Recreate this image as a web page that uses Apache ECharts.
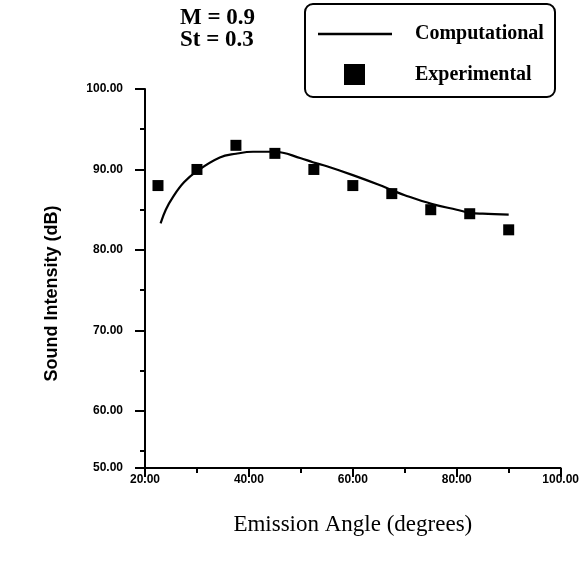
<!DOCTYPE html>
<html><head><meta charset="utf-8">
<script src="https://cdn.jsdelivr.net/npm/echarts@6/dist/echarts.min.js"></script>
<style>html,body{margin:0;padding:0;background:#fff}#c{width:582px;height:568px}</style>
</head><body><div id="c"></div>
<script>
// Computational curve (emission angle, sound intensity)
var curveX = [23, 24, 25.4, 27.5, 30, 34.4, 37.5, 40.8, 45, 50, 52.3, 55, 60, 65, 67.6, 70, 75.3, 80, 82.7, 85, 90];
var curveY = [83.3, 85.0, 86.6, 88.4, 89.8, 91.5, 91.95, 92.2, 92.2, 91.4, 90.9, 90.4, 89.3, 88.1, 87.4, 86.8, 85.7, 85.0, 84.6, 84.5, 84.4];
// Experimental points
var expX = [22.5, 30, 37.5, 45, 52.5, 60, 67.5, 75, 82.5, 90];
var expY = [88, 90, 93, 92, 90, 88, 87, 85, 84.5, 82.5];
// Axis ticks (the printed y axis meets the x axis just above 53 although it is labelled 50.00)
var xTicks = [20, 40, 60, 80, 100];
var yAxisBottom = 52.9;
var yTickValues = [52.9, 60, 70, 80, 90, 100];
var yTickLabels = ['50.00', '60.00', '70.00', '80.00', '90.00', '100.00'];
var yMinorTicks = [55, 65, 75, 85, 95];
var noteLines = ['M = 0.9', 'St = 0.3'];

var chart = echarts.init(document.getElementById('c'), null, {renderer: 'canvas'});
var serif = 'Liberation Serif';
var sans = 'Liberation Sans';
var labelStyle = {color: '#000', fontFamily: sans, fontWeight: 'bold', fontSize: 12};
chart.setOption({
  backgroundColor: '#fff',
  animation: false,
  title: {
    text: noteLines.join('\n'), left: 175, top: 2,
    textStyle: {fontFamily: serif, fontWeight: 'bold', fontSize: 23, lineHeight: 22, color: '#000'}
  },
  legend: [{
    data: [{name: 'Computational', icon: 'rect'}], left: 318, top: 24, padding: 0, itemWidth: 74, itemHeight: 2.5,
    textStyle: {fontFamily: serif, fontWeight: 'bold', fontSize: 20, color: '#000', padding: [0, 0, 0, 18]},
    selectedMode: false
  }, {
    data: [{name: 'Experimental', icon: 'rect'}], left: 344, top: 64, padding: 0, itemWidth: 21, itemHeight: 21,
    textStyle: {fontFamily: serif, fontWeight: 'bold', fontSize: 20, color: '#000', padding: [0, 0, 0, 45]},
    selectedMode: false
  }],
  graphic: [{
    type: 'rect', shape: {x: 305, y: 4, width: 250, height: 93, r: 8},
    style: {fill: 'none', stroke: '#000', lineWidth: 2}
  }],
  grid: {left: 145, right: 20, top: 89, bottom: 100},
  xAxis: {
    type: 'value', min: xTicks[0], max: xTicks[xTicks.length - 1], interval: 20,
    name: 'Emission Angle (degrees)', nameLocation: 'middle', nameGap: 45,
    nameTextStyle: {fontFamily: serif, fontSize: 23, color: '#000'},
    axisLine: {lineStyle: {color: '#000', width: 2}},
    axisTick: {length: 9, lineStyle: {color: '#000', width: 2}},
    minorTick: {show: true, splitNumber: 2, length: 5, lineStyle: {color: '#000', width: 2}},
    splitLine: {show: false},
    axisLabel: Object.assign({margin: 6, formatter: function (v) { return v.toFixed(2); }}, labelStyle)
  },
  yAxis: [{
    type: 'value', min: yAxisBottom, max: yTickValues[yTickValues.length - 1],
    name: 'Sound Intensity (dB)', nameLocation: 'middle', nameGap: 84, nameRotate: 90,
    nameTextStyle: {fontFamily: sans, fontWeight: 'bold', fontSize: 18, color: '#000', padding: [0, 30, 0, 0]},
    axisLine: {lineStyle: {color: '#000', width: 2}},
    axisTick: {length: 10, customValues: yTickValues, lineStyle: {color: '#000', width: 2}},
    splitLine: {show: false},
    axisLabel: Object.assign({margin: 22, customValues: yTickValues, formatter: function (v) {
      var i = yTickValues.indexOf(v);
      return i >= 0 ? yTickLabels[i] : '';
    }}, labelStyle)
  }, {
    type: 'value', min: yAxisBottom, max: yTickValues[yTickValues.length - 1], position: 'left', offset: 0,
    axisLine: {show: false},
    axisTick: {show: true, length: 5, customValues: yMinorTicks, lineStyle: {color: '#000', width: 2}},
    axisLabel: {show: false},
    splitLine: {show: false}
  }],
  series: [{
    name: 'Computational', type: 'line', smooth: 0.4, showSymbol: false, symbol: 'none',
    data: curveX.map(function (x, i) { return [x, curveY[i]]; }),
    lineStyle: {color: '#000', width: 2.2}, itemStyle: {color: '#000'}
  }, {
    name: 'Experimental', type: 'scatter', symbol: 'rect', symbolSize: 11,
    data: expX.map(function (x, i) { return [x, expY[i]]; }),
    itemStyle: {color: '#000', opacity: 1}
  }]
});
</script></body></html>
